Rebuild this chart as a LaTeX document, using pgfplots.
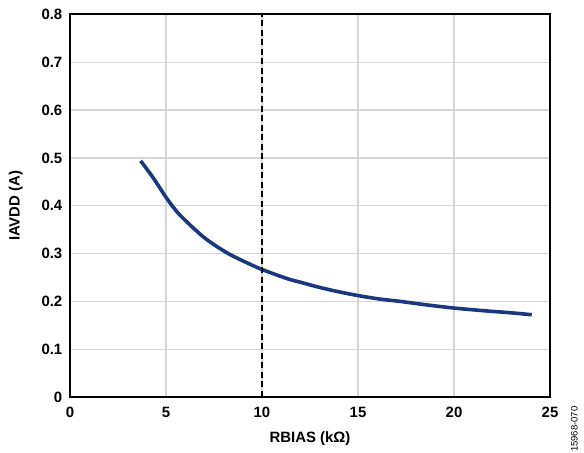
\documentclass[border=0pt]{standalone}
\usepackage{pgfplots}
\pgfplotsset{compat=1.18}
\usepackage{fontspec}
\setmainfont{Liberation Sans}
\definecolor{curveblue}{RGB}{28,54,128}
\begin{document}
\begin{tikzpicture}[x=1bp,y=1bp]
\begin{axis}[
  scale only axis,
  width=480bp, height=382.5bp,
  xmin=0, xmax=25, ymin=0, ymax=0.8,
  xtick={0,5,10,15,20,25},
  xticklabels={0,5,10,15,20,25},
  ytick={0,0.1,0.2,0.3,0.4,0.5,0.6,0.7,0.8},
  yticklabels={0,0.1,0.2,0.3,0.4,0.5,0.6,0.7,0.8},
  ticklabel style={font=\fontsize{15}{17}\selectfont\bfseries, inner sep=0pt},
  major tick length=0pt,
  grid=major,
  major grid style={draw=black!16, line width=1.3bp},
  axis line style={line width=2bp},
  xlabel={RBIAS (kΩ)},
  ylabel={IAVDD (A)},
  label style={font=\fontsize{15}{17}\selectfont\bfseries, inner sep=0pt},
  xlabel style={at={(axis description cs:0.5,0)}, anchor=north, yshift=-34bp},
  ylabel style={at={(axis description cs:0,0.5)}, anchor=south, yshift=47bp},
  xticklabel style={anchor=north, yshift=-10bp},
  yticklabel style={anchor=east, xshift=-7.5bp},
  clip=false,
]
\path (rel axis cs:-0.14583,-0.14641) rectangle (rel axis cs:1.07083,1.03791);
\addplot[curveblue, line width=3.6bp, smooth] coordinates {
(3.68,0.494) (4.34,0.458) (5.03,0.416) (5.6,0.386) (6.25,0.360) (6.94,0.335)
(7.6,0.316) (8.33,0.298) (9.2,0.281) (9.98,0.267) (11.28,0.248) (12.0,0.240)
(13.02,0.229) (14.0,0.220) (15.02,0.212) (16.1,0.205) (17.19,0.200)
(18.5,0.193) (20.0,0.186) (21.7,0.180) (23.0,0.176) (24.05,0.172)
};
\addplot[black, line width=2.6bp, dash pattern=on 6bp off 3.5bp] coordinates {(10,0) (10,0.8)};
\node[rotate=90, anchor=south west, font=\fontsize{9.5}{11}\selectfont, inner sep=0pt]
  at (rel axis cs:1.0583,-0.1438) {15968-070};
\end{axis}
\end{tikzpicture}
\end{document}
